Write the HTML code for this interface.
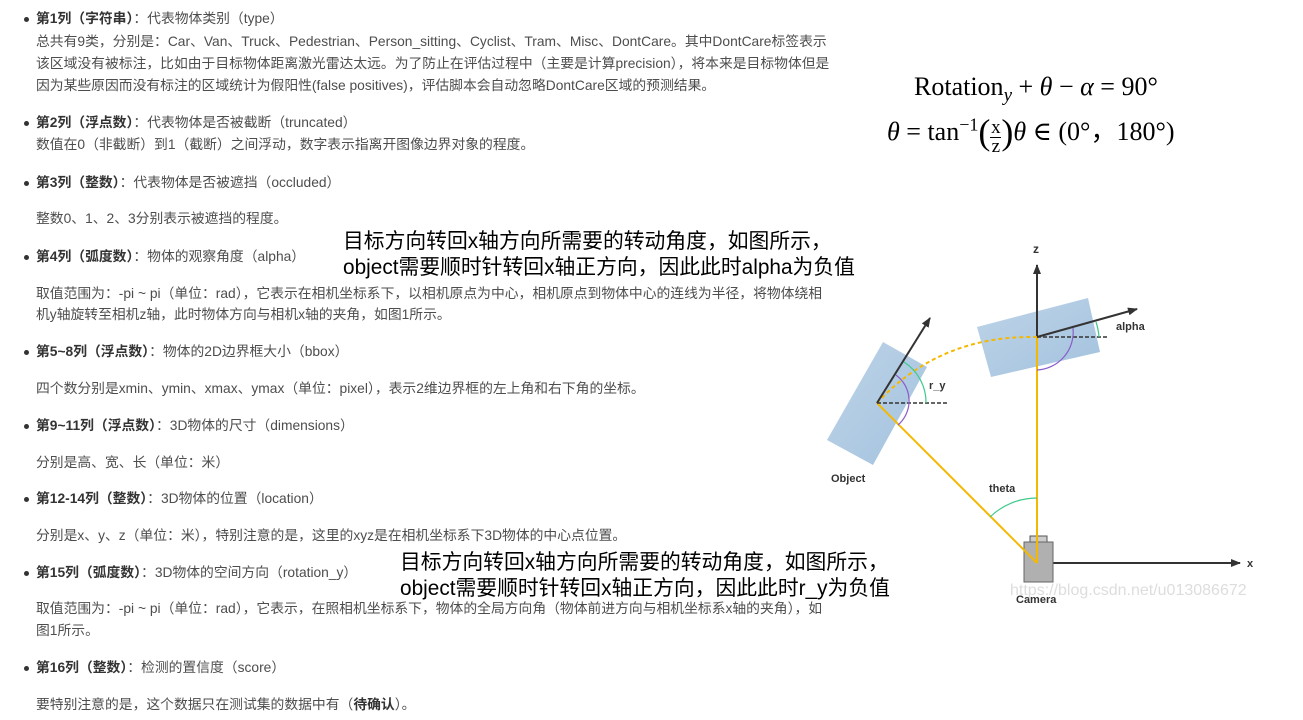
<!DOCTYPE html>
<html><head><meta charset="utf-8"><style>
body{margin:0;width:1303px;height:720px;background:#fff;position:relative;overflow:hidden;font-family:"Liberation Sans","Noto Sans CJK SC",sans-serif;}
.t{position:absolute;left:36px;font-size:13.8px;color:#4d4d4d;white-space:nowrap;line-height:16px;}
.t b{color:#333;}
.d{position:absolute;left:24px;width:5px;height:5px;border-radius:50%;background:#333;}
.a{position:absolute;font-size:20.8px;color:#000;white-space:nowrap;line-height:26px;font-family:"Liberation Sans","Noto Sans CJK SC",sans-serif;}
.m{position:absolute;font-family:"Liberation Serif","DejaVu Serif",serif;font-size:26px;white-space:nowrap;color:#000;}
</style></head><body>
<div class="d" style="top:17px"></div><div class="t" style="top:11px"><b>第1列（字符串）</b>：代表物体类别（type）</div>
<div class="t" style="top:34px">总共有9类，分别是：Car、Van、Truck、Pedestrian、Person_sitting、Cyclist、Tram、Misc、DontCare。其中DontCare标签表示</div>
<div class="t" style="top:56px">该区域没有被标注，比如由于目标物体距离激光雷达太远。为了防止在评估过程中（主要是计算precision），将本来是目标物体但是</div>
<div class="t" style="top:78px">因为某些原因而没有标注的区域统计为假阳性(false positives)，评估脚本会自动忽略DontCare区域的预测结果。</div>
<div class="d" style="top:121px"></div><div class="t" style="top:115px"><b>第2列（浮点数）</b>：代表物体是否被截断（truncated）</div>
<div class="t" style="top:137px">数值在0（非截断）到1（截断）之间浮动，数字表示指离开图像边界对象的程度。</div>
<div class="d" style="top:181px"></div><div class="t" style="top:175px"><b>第3列（整数）</b>：代表物体是否被遮挡（occluded）</div>
<div class="t" style="top:211px">整数0、1、2、3分别表示被遮挡的程度。</div>
<div class="d" style="top:255px"></div><div class="t" style="top:249px"><b>第4列（弧度数）</b>：物体的观察角度（alpha）</div>
<div class="t" style="top:286px">取值范围为：-pi ~ pi（单位：rad），它表示在相机坐标系下，以相机原点为中心，相机原点到物体中心的连线为半径，将物体绕相</div>
<div class="t" style="top:307px">机y轴旋转至相机z轴，此时物体方向与相机x轴的夹角，如图1所示。</div>
<div class="d" style="top:350px"></div><div class="t" style="top:344px"><b>第5~8列（浮点数）</b>：物体的2D边界框大小（bbox）</div>
<div class="t" style="top:381px">四个数分别是xmin、ymin、xmax、ymax（单位：pixel），表示2维边界框的左上角和右下角的坐标。</div>
<div class="d" style="top:424px"></div><div class="t" style="top:418px"><b>第9~11列（浮点数）</b>：3D物体的尺寸（dimensions）</div>
<div class="t" style="top:455px">分别是高、宽、长（单位：米）</div>
<div class="d" style="top:497px"></div><div class="t" style="top:491px"><b>第12-14列（整数）</b>：3D物体的位置（location）</div>
<div class="t" style="top:528px">分别是x、y、z（单位：米），特别注意的是，这里的xyz是在相机坐标系下3D物体的中心点位置。</div>
<div class="d" style="top:571px"></div><div class="t" style="top:565px"><b>第15列（弧度数）</b>：3D物体的空间方向（rotation_y）</div>
<div class="t" style="top:601px">取值范围为：-pi ~ pi（单位：rad），它表示，在照相机坐标系下，物体的全局方向角（物体前进方向与相机坐标系x轴的夹角），如</div>
<div class="t" style="top:623px">图1所示。</div>
<div class="d" style="top:666px"></div><div class="t" style="top:660px"><b>第16列（整数）</b>：检测的置信度（score）</div>
<div class="t" style="top:697px">要特别注意的是，这个数据只在测试集的数据中有（<b>待确认</b>）。</div>

<div class="a" style="left:343px;top:229px">目标方向转回x轴方向所需要的转动角度，如图所示，</div>
<div class="a" style="left:343px;top:255px">object需要顺时针转回x轴正方向，因此此时alpha为负值</div>

<div class="m" style="left:914px;top:72px">Rotation<sub style="font-style:italic;font-size:19px">y</sub> + <i>θ</i> − <i>α</i> = 90°</div>
<div class="m" style="left:887px;top:111px"><i>θ</i> = tan<sup style="font-size:18px">−1</sup><span style="font-size:36px;vertical-align:-4px">(</span><span style="display:inline-block;vertical-align:-12px;text-align:center;font-size:19px;line-height:18px">x<br><span style="display:block;border-top:1px solid #000;width:11px;margin:0 auto"></span>z</span><span style="font-size:36px;vertical-align:-4px">)</span><i>θ</i> ∈ (0°，180°)</div>

<svg style="position:absolute;left:0;top:0" width="1303" height="720">
<defs><marker id="ar" markerWidth="10" markerHeight="8" refX="9" refY="4" orient="auto" markerUnits="userSpaceOnUse"><path d="M0,0 L10,4 L0,8 z" fill="#333"/></marker>
<linearGradient id="g" x1="0" y1="0" x2="1" y2="1"><stop offset="0" stop-color="#bed4e8"/><stop offset="1" stop-color="#a3c2de"/></linearGradient></defs>
<polygon points="827,440 883,342 927,367 873,465" fill="url(#g)"/>
<polygon points="977,327 1088,298 1100,352 991,377" fill="url(#g)"/>
<line x1="1037" y1="563" x2="1037" y2="265" stroke="#333" stroke-width="2" marker-end="url(#ar)"/>
<line x1="1037" y1="563" x2="1240" y2="563" stroke="#333" stroke-width="2" marker-end="url(#ar)"/>
<rect x="1030" y="536" width="17" height="7" fill="#ccc" stroke="#555"/>
<rect x="1024" y="542" width="29" height="40" fill="#b0b0b0" stroke="#666"/>
<line x1="1037" y1="563" x2="877" y2="403" stroke="#f5b800" stroke-width="2"/>
<line x1="1037" y1="563" x2="1037" y2="337" stroke="#f5b800" stroke-width="2"/>
<path d="M877,403 Q940,335 1037,337" fill="none" stroke="#f5b800" stroke-width="2" stroke-dasharray="4,3"/>
<line x1="877" y1="403" x2="947" y2="403" stroke="#333" stroke-width="1.5" stroke-dasharray="4,2"/>
<line x1="1037" y1="337" x2="1107" y2="337" stroke="#333" stroke-width="1.5" stroke-dasharray="4,2"/>
<line x1="877" y1="403" x2="930" y2="318" stroke="#333" stroke-width="2" marker-end="url(#ar)"/>
<line x1="1037" y1="337" x2="1137" y2="309" stroke="#333" stroke-width="2" marker-end="url(#ar)"/>
<path d="M904,362 A48,48 0 0 1 926,403" fill="none" stroke="#3ec98a" stroke-width="1.2"/>
<path d="M896,375 A32,32 0 0 1 898,425" fill="none" stroke="#8a5cc8" stroke-width="1.2"/>
<path d="M1096,322 A60,60 0 0 1 1099,337" fill="none" stroke="#3ec98a" stroke-width="1.2"/>
<path d="M1073,328 A38,38 0 0 1 1037,370" fill="none" stroke="#8a5cc8" stroke-width="1.2"/>
<path d="M990,517 A68,68 0 0 1 1037,498" fill="none" stroke="#3ec98a" stroke-width="1.2"/>
<g font-family="Liberation Sans,sans-serif" font-weight="bold" font-size="11" fill="#333">
<text x="1033" y="253" font-size="12">z</text>
<text x="1116" y="330">alpha</text>
<text x="929" y="389">r_y</text>
<text x="831" y="482">Object</text>
<text x="989" y="492">theta</text>
<text x="1016" y="603">Camera</text>
<text x="1247" y="567">x</text>
</g>
<text x="1010" y="595" font-family="Liberation Sans,sans-serif" font-size="16" fill="#ddd">https://blog.csdn.net/u013086672</text>
</svg>
<div class="a" style="left:400px;top:550px">目标方向转回x轴方向所需要的转动角度，如图所示，</div>
<div class="a" style="left:400px;top:576px">object需要顺时针转回x轴正方向，因此此时r_y为负值</div>
</body></html>
